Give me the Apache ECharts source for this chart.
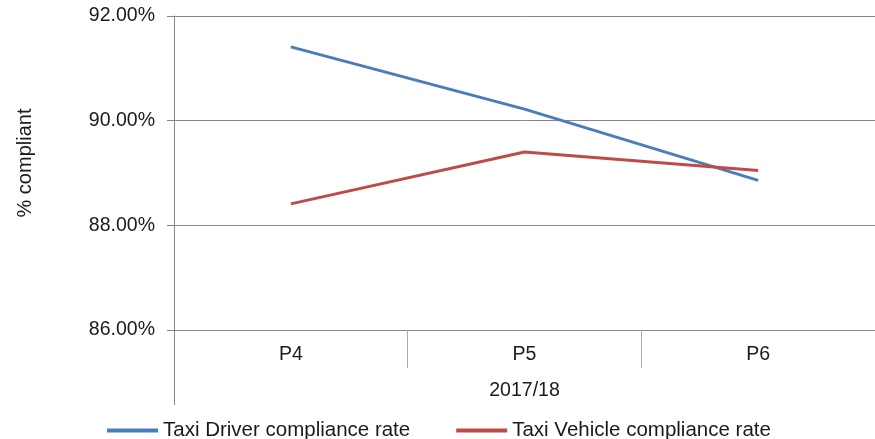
<!DOCTYPE html>
<html>
<head>
<meta charset="utf-8" />
<script src="https://cdn.jsdelivr.net/npm/echarts@6/dist/echarts.min.js"></script>
<title>Taxi compliance</title>
<style type="text/css">
* {margin:0; padding:0;}
body {background:#ffffff;}
#chart {width:875px; height:439px;}
</style>
</head>
<body>
<div id="chart"></div>
<script>
var periods = ['P4', 'P5', 'P6'];
var groupLabel = ['2017/18'];
var driverRate = [91.41, 90.22, 88.86];
var vehicleRate = [88.41, 89.40, 89.05];

var font = "'Liberation Sans', Arial, sans-serif";
var gray = '#868686';
var textColor = '#1a1a1a';

var chart = echarts.init(document.getElementById('chart'));
chart.setOption({
    animation: false,
    grid: {left: 174, width: 702, top: 16, bottom: 109, containLabel: false},
    // axis name sits a bit above the middle of the plot, like the original
    graphic: [{
        type: 'text',
        x: 25,
        y: 163,
        rotation: Math.PI / 2,
        style: {text: '% compliant', font: '20px ' + font, fill: textColor, align: 'center', verticalAlign: 'middle'}
    }],
    legend: {
        left: 102,
        top: 415,
        itemWidth: 51,
        itemHeight: 4,
        itemGap: 46,
        icon: 'rect',
        textStyle: {fontFamily: font, fontSize: 20.5, color: textColor},
        data: ['Taxi Driver compliance rate', 'Taxi Vehicle compliance rate']
    },
    xAxis: [
        {
            type: 'category',
            data: periods,
            position: 'bottom',
            boundaryGap: true,
            axisLine: {show: true, lineStyle: {color: gray, width: 1}},
            axisTick: {show: true, interval: 0, length: 38, lineStyle: {color: '#aaaaaa'}},
            axisLabel: {margin: 15, fontFamily: font, fontSize: 19.5, color: textColor}
        },
        {
            type: 'category',
            data: groupLabel,
            position: 'bottom',
            boundaryGap: true,
            axisLine: {show: false},
            axisTick: {show: true, interval: 0, length: 75, lineStyle: {color: gray}},
            axisLabel: {margin: 51, fontFamily: font, fontSize: 19.5, color: textColor}
        }
    ],
    yAxis: {
        type: 'value',
        min: 86,
        max: 92,
        interval: 2,
        axisLine: {show: true, lineStyle: {color: gray}},
        axisTick: {show: true, length: 7, lineStyle: {color: gray}},
        axisLabel: {
            margin: 19,
            fontFamily: font,
            fontSize: 19.5,
            color: textColor,
            formatter: function (v) { return v.toFixed(2) + '%'; }
        },
        splitLine: {show: true, lineStyle: {color: gray, width: 1}}
    },
    series: [
        {
            name: 'Taxi Driver compliance rate',
            type: 'line',
            data: driverRate,
            symbol: 'none',
            lineStyle: {color: '#4a7ebb', width: 3},
            itemStyle: {color: '#4a7ebb'}
        },
        {
            name: 'Taxi Vehicle compliance rate',
            type: 'line',
            data: vehicleRate,
            symbol: 'none',
            lineStyle: {color: '#be4b48', width: 3},
            itemStyle: {color: '#be4b48'}
        }
    ]
});
</script>
</body>
</html>
